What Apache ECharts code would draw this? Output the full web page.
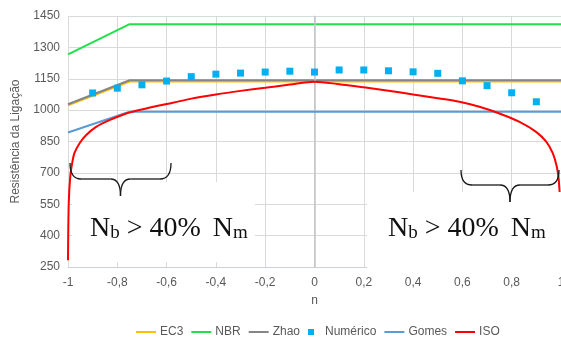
<!DOCTYPE html>
<html>
<head>
<meta charset="utf-8">
<script src="https://cdn.jsdelivr.net/npm/echarts@6/dist/echarts.min.js"></script>
<style>
  html, body { margin: 0; padding: 0; background: #fff; }
  #chart { width: 561px; height: 337px; }
</style>
</head>
<body>
<div id="chart"></div>
<script>
// dados
const nLines = [-1, -0.75, 1]
const ec3 = [1023, 1137, 1137]
const nbr = [1267, 1411, 1411]
const zhao = [1028, 1143, 1143]
const gomes = [893, 992, 992]

const nNum = [-0.9, -0.8, -0.7, -0.6, -0.5, -0.4, -0.3, -0.2, -0.1, 0, 0.1, 0.2, 0.3, 0.4, 0.5, 0.6, 0.7, 0.8, 0.9]
const numerico = [1082, 1105, 1121, 1139, 1160, 1172, 1177, 1182, 1186, 1182, 1192, 1192, 1188, 1183, 1176, 1140, 1117, 1083, 1040]

const nIso = [-1, -0.997, -0.991, -0.983, -0.974, -0.953, -0.926, -0.886, -0.832, -0.764, -0.683, -0.575, -0.5, -0.4, -0.3, -0.2, -0.1, 0,
  0.1, 0.2, 0.3, 0.4, 0.507, 0.588, 0.669, 0.75, 0.832, 0.899, 0.94, 0.967, 0.983, 0.991, 0.997, 1]
const iso = [282, 555, 681, 747, 794, 842, 881, 920, 952, 984, 1008, 1035, 1055, 1075, 1092, 1107, 1122, 1136,
  1124, 1109, 1093, 1075, 1056, 1040, 1016, 984, 944, 896, 849, 793, 729, 665, 540, 282]

const yMin = 250
const yMax = 1450
const yStep = 150

const pairs = (xs, ys) => xs.map((x, i) => [x, ys[i]])
const fmtN = v => String(Math.round(v * 10) / 10).replace('.', ',')

const chart = echarts.init(document.getElementById('chart'))

const lineSeries = (name, color, data, z) => ({
  name,
  type: 'line',
  data,
  symbol: 'none',
  showSymbol: false,
  z,
  lineStyle: { color, width: 2 },
  itemStyle: { color }
})

// chaveta horizontal: extremos x0..x1, topo das pontas yTop, barra yMid, bico yTip
const brace = (x0, x1, yTop, yMid, yTip) => {
  const xc = (x0 + x1) / 2
  const st = { stroke: '#1a1a1a', lineWidth: 1.3, fill: null }
  const c = (x1a, y1a, cx, cy, x2a, y2a) => ({
    type: 'bezierCurve', z: 101, style: st,
    shape: { x1: x1a, y1: y1a, x2: x2a, y2: y2a, cpx1: cx, cpy1: cy }
  })
  const l = (xa, xb) => ({ type: 'line', z: 101, style: st, shape: { x1: xa, y1: yMid, x2: xb, y2: yMid } })
  return [
    c(x0, yTop, x0, yMid, x0 + 11, yMid),
    l(x0 + 11, xc - 10),
    c(xc - 10, yMid, xc, yMid, xc, yTip),
    c(xc, yTip, xc, yMid, xc + 10, yMid),
    l(xc + 10, x1 - 11),
    c(x1 - 11, yMid, x1, yMid, x1, yTop)
  ]
}

const serif = '"Liberation Serif", "DejaVu Serif", serif'
const richText = {
  a: { fontFamily: serif, fontSize: 28, lineHeight: 30, verticalAlign: 'bottom', fill: '#111' },
  s: { fontFamily: serif, fontSize: 28, lineHeight: 30, width: 12 },
  b: { fontFamily: serif, fontSize: 19, lineHeight: 16, verticalAlign: 'bottom', fill: '#111' }
}
const nbText = '{a|N}{b|b}{a| > 40%}{s| }{a|N}{b|m}'
const lineIcon = 'path://M0,0H20V2H0Z'

chart.setOption({
  animation: false,
  textStyle: { fontFamily: '"Liberation Sans", Arial, sans-serif' },
  grid: { left: 68, right: 0, top: 16, bottom: 70, outerBoundsMode: 'none', containLabel: false },
  xAxis: {
    type: 'value',
    min: -1,
    max: 1,
    interval: 0.2,
    name: 'n',
    nameLocation: 'middle',
    nameGap: 28,
    nameTextStyle: { color: '#595959', fontSize: 12 },
    axisLine: { onZero: false, lineStyle: { color: '#C8D2E0', width: 1 } },
    axisTick: { show: false },
    axisLabel: { color: '#595959', fontSize: 12, margin: 10, formatter: fmtN, hideOverlap: false },
    splitLine: { lineStyle: { color: '#D9D9D9', width: 1 } }
  },
  yAxis: {
    type: 'value',
    min: yMin,
    max: yMax,
    interval: yStep,
    name: 'Resistência da Ligação',
    nameLocation: 'middle',
    nameGap: 46,
    nameTextStyle: { color: '#595959', fontSize: 12 },
    axisLine: { show: true, lineStyle: { color: '#C8D2E0', width: 1 } },
    axisTick: { show: false },
    axisLabel: { color: '#595959', fontSize: 12, margin: 8, formatter: v => String(v) },
    splitLine: { lineStyle: { color: '#D9D9D9', width: 1 } }
  },
  legend: {
    top: 321,
    left: 131,
    itemWidth: 20,
    itemHeight: 6,
    itemGap: 8,
    textStyle: { color: '#595959', fontSize: 12, padding: [0, 0, 0, -1] },
    data: [
      { name: 'EC3', icon: lineIcon },
      { name: 'NBR', icon: lineIcon },
      { name: 'Zhao', icon: lineIcon },
      { name: 'Numérico', icon: 'path://M0,0H1V1H0Z' },
      { name: 'Gomes', icon: lineIcon },
      { name: 'ISO', icon: lineIcon }
    ]
  },
  series: [
    lineSeries('EC3', '#FFC000', pairs(nLines, ec3), 2),
    lineSeries('NBR', '#22E04A', pairs(nLines, nbr), 3),
    Object.assign(lineSeries('Zhao', '#858585', pairs(nLines, zhao), 4), {
      markLine: {
        silent: true,
        symbol: 'none',
        label: { show: false },
        lineStyle: { color: '#C4C4C4', width: 1.5, type: 'solid' },
        data: [{ xAxis: 0 }]
      }
    }),
    {
      name: 'Numérico',
      type: 'scatter',
      data: pairs(nNum, numerico),
      symbol: 'rect',
      symbolSize: 7,
      z: 5,
      itemStyle: { color: '#00B0F0', opacity: 1 }
    },
    lineSeries('Gomes', '#5B9BD5', pairs(nLines, gomes), 6),
    Object.assign(lineSeries('ISO', '#FF0000', pairs(nIso, iso), 7), { smooth: 0.3 })
  ],
  graphic: [
    // caixas de texto brancas por cima do gráfico
    { type: 'rect', z: 100, shape: { x: 72, y: 182, width: 183, height: 80 }, style: { fill: '#fff' } },
    { type: 'rect', z: 100, shape: { x: 367, y: 192, width: 194, height: 80 }, style: { fill: '#fff' } },
    ...brace(70, 171, 163, 179, 196),
    ...brace(461, 559, 170, 185, 202),
    { type: 'text', z: 102, left: 90, top: 214, style: { text: nbText, rich: richText } },
    { type: 'text', z: 102, left: 388, top: 214, style: { text: nbText, rich: richText } }
  ]
})
</script>
</body>
</html>
